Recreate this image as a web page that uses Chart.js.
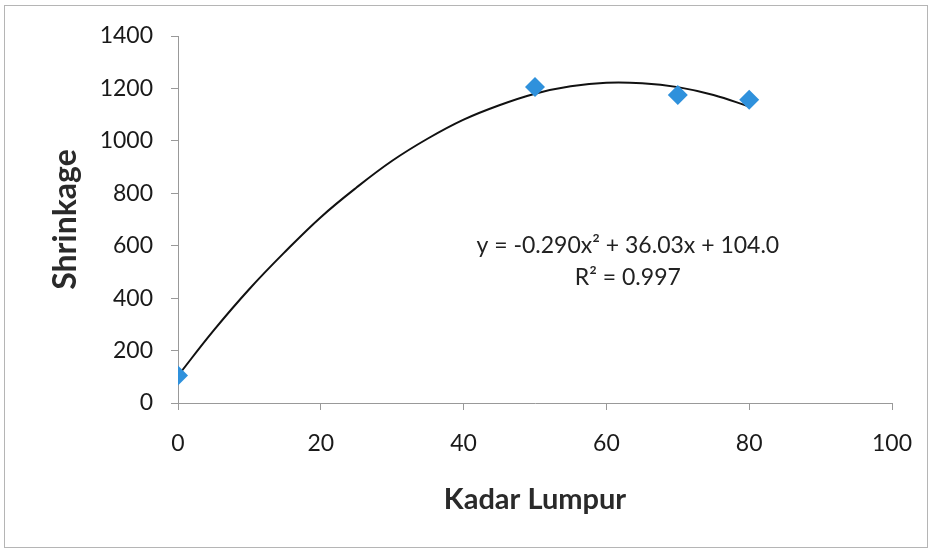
<!DOCTYPE html>
<html>
<head>
<meta charset="utf-8">
<script src="https://cdn.jsdelivr.net/npm/chart.js@4"></script>
<style>
  html, body { margin: 0; padding: 0; background: #fff; }
  #wrap { width: 933px; height: 552px; position: relative; }
</style>
</head>
<body>
<div id="wrap"><canvas id="chart"></canvas></div>
<script>
// measured points
const kadarLumpur = [0, 50, 70, 80];
const shrinkage = [105, 1205, 1175, 1157];

// trendline
const trendX = [0, 5, 10, 15, 20, 25, 30, 35, 40, 45, 50, 55, 60, 65, 70, 75, 80];
const trendY = [104, 277, 435, 577, 709, 822, 924, 1009, 1081, 1136, 1180, 1208, 1222, 1220, 1205, 1175, 1131];

const eqLine = 'y = -0.290x² + 36.03x + 104.0';
const r2Line = 'R² = 0.997';

const FONT = 'Lato, "Open Sans", sans-serif';

const framePlugin = {
    id: 'frame',
    beforeDraw(chart) {
        const ctx = chart.ctx;
        ctx.save();
        ctx.fillStyle = '#fff';
        ctx.fillRect(0, 0, chart.width, chart.height);
        ctx.strokeStyle = '#b5b5b5';
        ctx.lineWidth = 1;
        ctx.strokeRect(4.5, 5.5, 923, 542);
        ctx.restore();
    },
    afterDatasetsDraw(chart) {
        const ctx = chart.ctx;
        const xs = chart.scales.x, ys = chart.scales.y;
        const cx = xs.getPixelForValue(63);
        ctx.save();
        ctx.fillStyle = '#222';
        ctx.font = '23px ' + FONT;
        ctx.textAlign = 'center';
        ctx.textBaseline = 'middle';
        ctx.fillText(eqLine, cx, ys.getPixelForValue(600));
        ctx.fillText(r2Line, cx, ys.getPixelForValue(480));
        ctx.restore();
    }
};

const ctx = document.getElementById('chart').getContext('2d');

new Chart(ctx, {
    type: 'scatter',
    data: {
        datasets: [
            {
                label: 'Shrinkage',
                data: kadarLumpur.map((x, i) => ({ x: x, y: shrinkage[i] })),
                pointStyle: 'rectRot',
                pointRadius: 10,
                pointBackgroundColor: '#2f91dc',
                pointBorderColor: '#2f91dc',
                pointBorderWidth: 0,
                showLine: false,
                order: 0
            },
            {
                label: 'Trend',
                data: trendX.map((x, i) => ({ x: x, y: trendY[i] })),
                showLine: true,
                borderColor: '#111',
                borderWidth: 2,
                pointRadius: 0,
                tension: 0.4,
                order: 1
            }
        ]
    },
    options: {
        responsive: true,
        maintainAspectRatio: false,
        animation: false,
        layout: { padding: { left: 40, top: 36, right: 41, bottom: 35 } },
        plugins: { legend: { display: false }, tooltip: { enabled: false } },
        scales: {
            x: {
                type: 'linear',
                min: 0, max: 100,
                ticks: { stepSize: 20, color: '#1a1a1a', font: { family: FONT, size: 23 }, padding: 20, maxRotation: 0,
                         callback: v => String(v) },
                grid: { drawOnChartArea: false, color: '#999', tickLength: 7 },
                border: { color: '#999' },
                title: { display: true, text: 'Kadar Lumpur', color: '#2a2a2a', font: { family: FONT, size: 29, weight: 'bold' }, padding: { top: 10, bottom: 0 } },
                afterFit(scale) { scale.height = 552 - 403 - 35; }
            },
            y: {
                min: 0, max: 1400,
                ticks: { stepSize: 200, color: '#1a1a1a', font: { family: FONT, size: 23 }, padding: 18,
                         callback: v => String(v) },
                grid: { drawOnChartArea: false, color: '#999', tickLength: 7 },
                border: { color: '#999' },
                title: { display: true, text: 'Shrinkage', color: '#2a2a2a', font: { family: FONT, size: 32, weight: 'bold' }, padding: { top: 6, bottom: 0 } },
                afterFit(scale) { scale.width = 178 - 40; }
            }
        }
    },
    plugins: [framePlugin]
});
</script>
</body>
</html>
